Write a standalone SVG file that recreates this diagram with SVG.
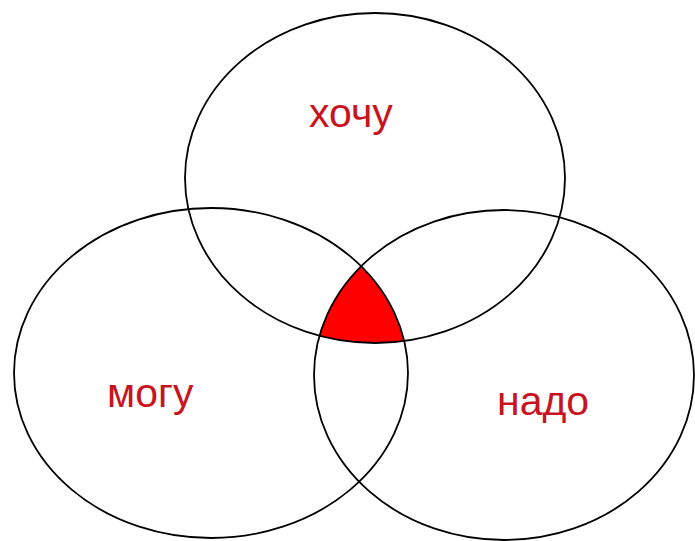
<svg xmlns="http://www.w3.org/2000/svg" width="695" height="541" viewBox="0 0 695 541">
<style>
.c{fill:none;stroke:#000;stroke-width:1.8}
.t{font-family:"Liberation Sans",Arial,sans-serif;font-size:41px;fill:#c8141e}
</style>
<defs>
<clipPath id="cTop"><ellipse cx="375" cy="178" rx="190" ry="165"/></clipPath>
<clipPath id="cRight"><ellipse cx="504" cy="375" rx="190" ry="165"/></clipPath>
</defs>
<rect width="695" height="541" fill="#fff"/>
<g id="intersection" clip-path="url(#cTop)"><g clip-path="url(#cRight)"><ellipse cx="211" cy="373" rx="197" ry="165" fill="#ff0000"/></g></g>
<g id="hochu"><ellipse class="c" cx="375" cy="178" rx="190" ry="165"/><text class="t" x="309" y="127">хочу</text></g>
<g id="mogu"><ellipse class="c" cx="211" cy="373" rx="197" ry="165"/><text class="t" x="107" y="407">могу</text></g>
<g id="nado"><ellipse class="c" cx="504" cy="375" rx="190" ry="165"/><text class="t" x="497" y="415">надо</text></g>
<g id="connectors"/>
</svg>
